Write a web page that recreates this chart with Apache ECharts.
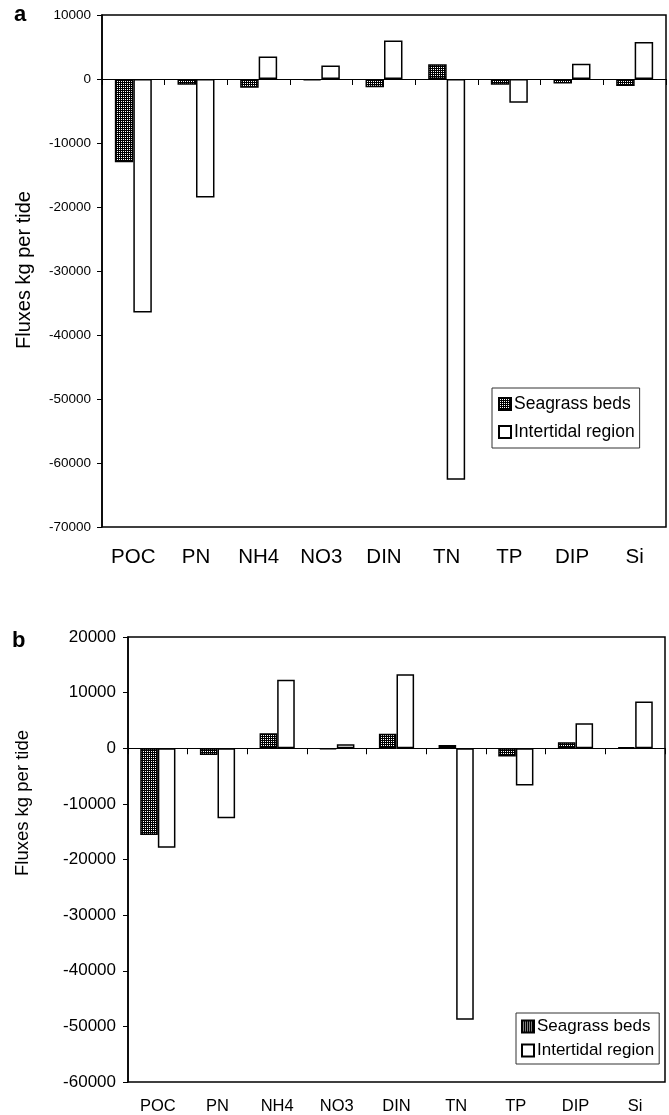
<!DOCTYPE html>
<html>
<head>
<meta charset="utf-8">
<script src="https://cdn.jsdelivr.net/npm/echarts@6/dist/echarts.min.js"></script>
<style>
html,body{margin:0;padding:0;background:#fff;}
#chart{width:669px;height:1115px;}
</style>
</head>
<body>
<div id="chart"></div>
<script>
var categories = ['POC','PN','NH4','NO3','DIN','TN','TP','DIP','Si'];
var seagrassA   = [-13000, -900, -1350, -200, -1300, 2300, -900, -700, -1100];
var intertidalA = [-36500, -18500, 3500, 2100, 6000, -62600, -3700, 2400, 5800];
var seagrassB   = [-15600, -1200, 2700, -200, 2600, 600, -1500, 1100, 200];
var intertidalB = [-17900, -12600, 12300, 700, 13300, -48800, -6700, 4500, 8400];
var seriesNames = ['Seagrass beds', 'Intertidal region'];
var yTitle = 'Fluxes kg per tide';

var FONT = '"Liberation Sans", Arial, Helvetica, sans-serif';

// checker pattern for seagrass bars
var pc = document.createElement('canvas');
pc.width = 4; pc.height = 4;
var g = pc.getContext('2d');
g.fillStyle = '#000'; g.fillRect(0,0,4,4);
g.fillStyle = '#fff'; g.fillRect(1,1,1,1); g.fillRect(3,3,1,1); g.fillRect(1,3,1,1); g.fillRect(3,1,1,1);
var hatch = {image: pc, repeat: 'repeat'};

var chart = echarts.init(document.getElementById('chart'), null, {renderer: 'canvas'});

function gridDef(left, top, width, height) {
  return {left: left, top: top, width: width, height: height, show: true,
    borderColor: '#000', borderWidth: 1.5, backgroundColor: '#fff'};
}
function labelAxis(gi, fontSize, margin) {
  return {type: 'category', gridIndex: gi, data: categories, position: 'bottom',
    axisLine: {show: false, onZero: false}, axisTick: {show: false},
    axisLabel: {color: '#000', fontSize: fontSize, fontFamily: FONT, margin: margin}};
}
function zeroAxis(gi) {
  return {type: 'category', gridIndex: gi, data: categories, position: 'top',
    axisLine: {show: true, onZero: true, lineStyle: {color: '#000', width: 1}},
    axisTick: {show: true, inside: true, length: 6, lineStyle: {color: '#000', width: 1}},
    axisLabel: {show: false}};
}
function valAxis(gi, min, max, fontSize, margin) {
  return {type: 'value', gridIndex: gi, min: min, max: max, interval: 10000,
    axisLine: {show: true, lineStyle: {color: '#000', width: 1.5}},
    axisTick: {show: true, length: 5, lineStyle: {color: '#000'}},
    splitLine: {show: false},
    axisLabel: {color: '#000', fontSize: fontSize, fontFamily: FONT, margin: margin,
      formatter: function (v) { return String(v); }}};
}
function bar(name, xi, yi, data, pattern) {
  return {name: name, type: 'bar', xAxisIndex: xi, yAxisIndex: yi, data: data,
    barGap: '0%', barCategoryGap: '41%',
    itemStyle: {color: pattern ? hatch : '#fff', borderColor: '#000', borderWidth: 1.5},
    emphasis: {disabled: true}};
}
function legendDef(left, top, pad, gap, fs) {
  return {data: seriesNames, orient: 'vertical', left: left, top: top,
    padding: pad, itemGap: gap, itemWidth: 12, itemHeight: 12,
    borderColor: '#333', borderWidth: 1, backgroundColor: '#fff', selectedMode: false,
    icon: 'rect',
    textStyle: {color: '#000', fontSize: fs, fontFamily: FONT, padding: [0,0,0,-2]}};
}

chart.setOption({
  animation: false,
  backgroundColor: '#fff',
  grid: [gridDef(102, 15, 564, 512), gridDef(128, 637, 537, 445)],
  xAxis: [labelAxis(0, 20.5, 20), zeroAxis(0), labelAxis(1, 16.5, 16), zeroAxis(1)],
  yAxis: [valAxis(0, -70000, 10000, 13.5, 11), valAxis(1, -60000, 20000, 17, 12)],
  legend: [legendDef(492, 388, [7, 5, 7, 6], 10, 17.5), legendDef(516, 1013, [5, 5, 5, 5], 7, 17)],
  series: [
    bar(seriesNames[0], 0, 0, seagrassA, true),
    bar(seriesNames[1], 0, 0, intertidalA, false),
    bar(seriesNames[0], 2, 1, seagrassB, true),
    bar(seriesNames[1], 2, 1, intertidalB, false)
  ],
  graphic: [
    {type: 'text', left: 14, top: 4, style: {text: 'a', font: 'bold 22px ' + FONT, fill: '#000'}},
    {type: 'text', left: 12, top: 630, style: {text: 'b', font: 'bold 22px ' + FONT, fill: '#000'}},
    {type: 'text', x: 24, y: 270, rotation: Math.PI / 2,
      style: {text: yTitle, font: '20px ' + FONT, fill: '#000', align: 'center', verticalAlign: 'middle'}},
    {type: 'text', x: 23, y: 803, rotation: Math.PI / 2,
      style: {text: yTitle, font: '18.5px ' + FONT, fill: '#000', align: 'center', verticalAlign: 'middle'}}
  ]
});
</script>
</body>
</html>
